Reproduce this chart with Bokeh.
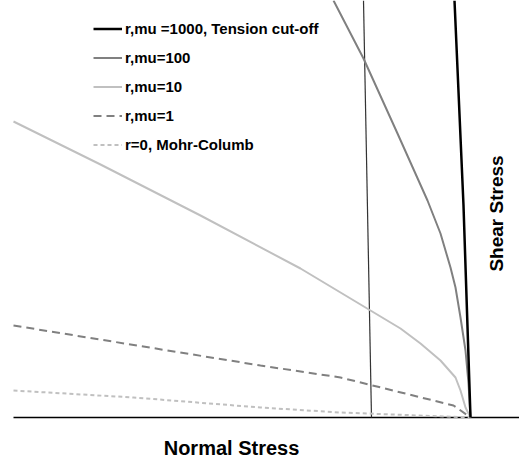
from bokeh.plotting import figure
from bokeh.models import Range1d, Legend, LegendItem, Label
from bokeh.embed import file_html
from bokeh.resources import INLINE

# Normal stress (x) and shear stress (y) for each yield envelope
mu1000_x = [-1.6, -0.7, 0.0]
mu1000_y = [41.7, 21.2, 0.0]

mu100_x = [-13.7, -10.7, -7.3, -4.3, -3.0, -2.0, -1.5, -1.0, -0.5, -0.2, 0.0]
mu100_y = [41.7, 35.9, 28.4, 21.7, 18.4, 15.0, 13.0, 10.0, 6.7, 3.4, 0.0]

mu10_x = [-45.7, -37.0, -27.0, -17.0, -10.0, -7.0, -5.0, -3.0, -1.5, -1.0, -0.5, 0.0]
mu10_y = [29.6, 25.3, 20.2, 14.9, 10.7, 8.9, 7.4, 5.7, 4.0, 2.7, 1.0, 0.0]

mu1_x = [-45.7, -21.0, -13.0, -1.7, 0.0]
mu1_y = [9.2, 5.2, 4.0, 1.2, 0.0]

r0_x = [-45.7, -33.7, -21.0, -13.0, 0.0]
r0_y = [2.7, 2.0, 1.0, 0.5, 0.0]

vline_x = [-10.7, -9.9]
vline_y = [41.7, 0.0]

axis_x = [-45.7, 4.9]
axis_y = [0.0, 0.0]

labels = ["r,mu =1000, Tension cut-off", "r,mu=100", "r,mu=10", "r,mu=1", "r=0, Mohr-Columb"]

p = figure(width=519, height=459, output_backend="svg", toolbar_location=None,
           x_range=Range1d(-47.0, 4.9), y_range=Range1d(-4.2, 41.7),
           min_border=0, outline_line_color=None)
p.xaxis.visible = False
p.yaxis.visible = False
p.xgrid.visible = False
p.ygrid.visible = False

p.line(axis_x, axis_y, line_color="black", line_width=1.3)
p.line(vline_x, vline_y, line_color="#333333", line_width=1.2)

r0 = p.line(r0_x, r0_y, line_color="#c0c0c0", line_width=2, line_dash="4 3")
r1 = p.line(mu1_x, mu1_y, line_color="#808080", line_width=2, line_dash="8 5")
r10 = p.line(mu10_x, mu10_y, line_color="#c0c0c0", line_width=2)
r100 = p.line(mu100_x, mu100_y, line_color="#808080", line_width=2)
r1000 = p.line(mu1000_x, mu1000_y, line_color="black", line_width=2.5)

legend = Legend(items=[LegendItem(label=labels[0], renderers=[r1000]),
                       LegendItem(label=labels[1], renderers=[r100]),
                       LegendItem(label=labels[2], renderers=[r10]),
                       LegendItem(label=labels[3], renderers=[r1]),
                       LegendItem(label=labels[4], renderers=[r0])],
                location=(93, 305), padding=0, margin=0, spacing=10,
                label_height=19, glyph_height=19, glyph_width=29, label_standoff=3,
                label_text_font="Liberation Sans", label_text_font_style="bold",
                label_text_font_size="15px", label_text_color="black",
                border_line_alpha=0, background_fill_alpha=0)
p.add_layout(legend, "center")

p.add_layout(Label(x=-23.9, y=-3.0, text="Normal Stress", text_align="center",
                   text_baseline="alphabetic", text_font="Liberation Sans",
                   text_font_style="bold", text_font_size="20px", text_color="black"))
p.add_layout(Label(x=2.6, y=20.4, text="Shear Stress", text_align="center",
                   text_baseline="middle", angle=1.5708, text_font="Liberation Sans",
                   text_font_style="bold", text_font_size="19px", text_color="black"))

open("out.html", "w").write(file_html(p, INLINE))
